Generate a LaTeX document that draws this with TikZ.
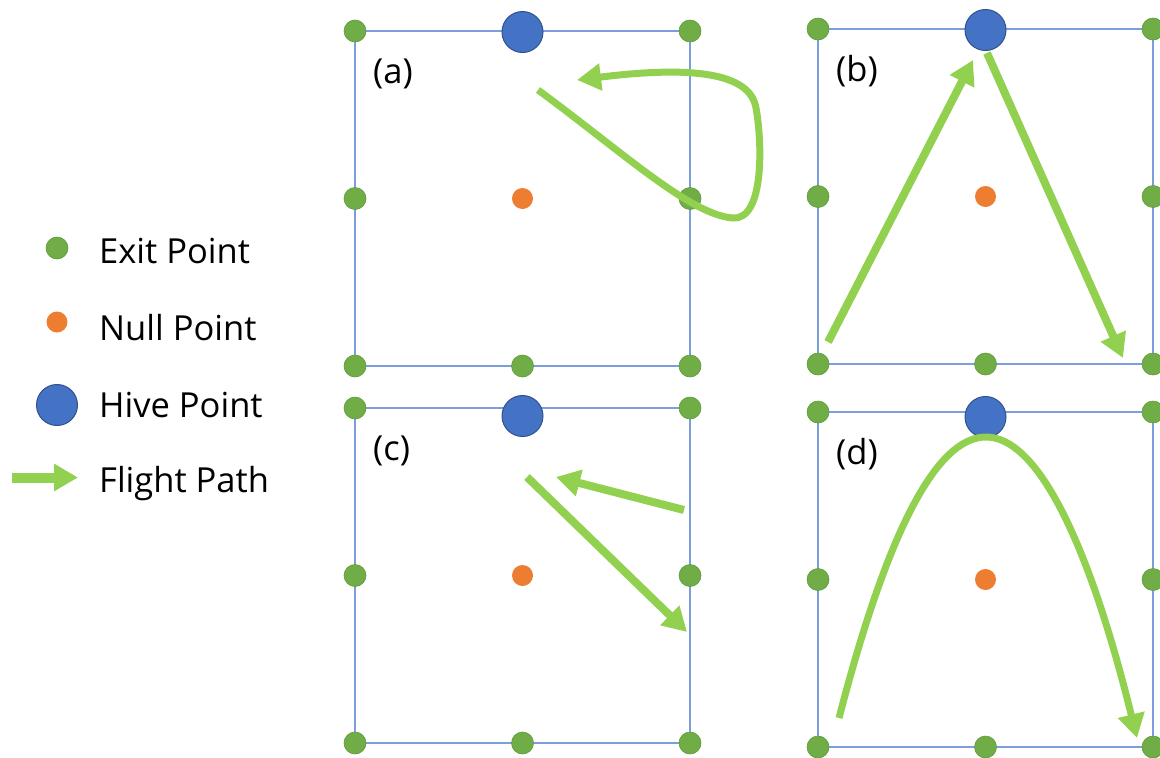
\documentclass[tikz,border=0pt]{standalone}
\usepackage{fontspec}
\setmainfont{Open Sans}
\usetikzlibrary{arrows.meta}
\definecolor{exitgreen}{HTML}{70AD47}
\definecolor{exitedge}{HTML}{5E9A3A}
\definecolor{nullorange}{HTML}{ED7D31}
\definecolor{hiveblue}{HTML}{4472C4}
\definecolor{hiveedge}{HTML}{2F528F}
\definecolor{framecol}{HTML}{7C9EDC}
\definecolor{flightgreen}{HTML}{92D050}
\begin{document}
\begin{tikzpicture}[x=1pt, y=-1pt,
        exitpt/.style={shape=circle, fill=exitgreen, draw=exitedge, line width=0.6pt, minimum size=22pt, inner sep=0pt},
        nullpt/.style={shape=circle, fill=nullorange, minimum size=21pt, inner sep=0pt},
        hivept/.style={shape=circle, fill=hiveblue, draw=hiveedge, line width=1pt, minimum size=41pt, inner sep=0pt},
        frame/.style={draw=framecol, line width=1.2pt},
        flight/.style={draw=flightgreen, line width=7pt, -{Triangle[width=26pt,length=24pt]}},
        lbl/.style={font=\fontsize{34.5}{40}\selectfont, anchor=base west, inner sep=0pt},
    ]
    \useasboundingbox (0,0) rectangle (1160,758);
    % legend
    \node[exitpt] (k-exit) at (57,248) {};
    \node[nullpt] (k-null) at (57,322) {};
    \node[hivept] (k-hive) at (57,405) {};
    \coordinate (k-s) at (12,477.5);
    \coordinate (k-e) at (78,477.5);
    \draw[flight, line width=10pt] (k-s) -- (k-e);
    \node[lbl] (t-exit) at (99,263) {Exit Point};
    \node[lbl] (t-null) at (99,340) {Null Point};
    \node[lbl] (t-hive) at (99,417) {Hive Point};
    \node[lbl] (t-flight) at (99,492) {Flight Path};
    % panels
    \foreach \p/\ox/\oy/\hy in {a/355/31/1, b/818/29/1, c/355/408/8, d/818/412/5} {
        \coordinate (\p-nw) at (\ox,\oy);
        \coordinate (\p-se) at (\ox+335,\oy+335);
        \draw[frame] (\p-nw) rectangle (\p-se);
        \foreach \i/\j in {0/0, 2/0, 0/1, 2/1, 0/2, 1/2, 2/2}
            \node[exitpt] (\p\i\j) at (\ox+167.5*\i,\oy+167.5*\j) {};
        \node[nullpt] (\p-null) at (\ox+167.5,\oy+167.5) {};
        \node[hivept] (\p-hive) at (\ox+167.5,\oy+\hy) {};
        \node[lbl] (\p-lbl) at (\ox+18,\oy+52) {(\p)};
    }
    % (a)
    \coordinate (a-s) at (538,90);
    \coordinate (a-e) at (577,80);
    \draw[flight] (a-s) .. controls (620,150) and (690,215) .. (733,218)
        .. controls (765,220) and (762,140) .. (756,108)
        .. controls (750,72) and (690,66) .. (a-e);
    % (b)
    \coordinate (b-s1) at (828,342);
    \coordinate (b-e1) at (973,60);
    \coordinate (b-s2) at (987,53);
    \coordinate (b-e2) at (1123,358);
    \draw[flight, line width=8pt] (b-s1) -- (b-e1);
    \draw[flight, line width=8pt] (b-s2) -- (b-e2);
    % (c)
    \coordinate (c-s1) at (684,510);
    \coordinate (c-e1) at (556,477);
    \coordinate (c-s2) at (527,477);
    \coordinate (c-e2) at (687,632);
    \draw[flight, line width=8pt] (c-s1) -- (c-e1);
    \draw[flight, line width=8pt] (c-s2) -- (c-e2);
    % (d)
    \coordinate (d-s) at (839,718);
    \coordinate (d-e) at (1137,738);
    \draw[flight] (d-s) .. controls (888,529) and (937,437) .. (986,437)
        .. controls (1036,437) and (1087,536) .. (d-e);
\end{tikzpicture}
\end{document}
